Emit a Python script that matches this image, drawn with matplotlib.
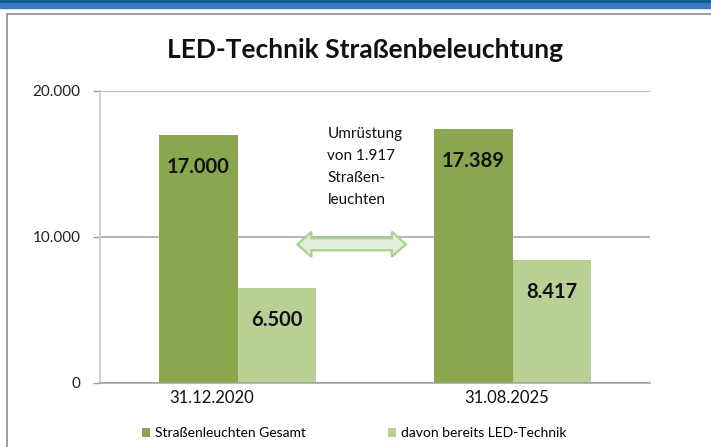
import matplotlib.pyplot as plt
from matplotlib.patches import Rectangle, Polygon
from matplotlib.transforms import ScaledTranslation

plt.rcParams['font.family'] = ['Lato', 'DejaVu Sans']

# Daten
dates = ["31.12.2020", "31.08.2025"]
gesamt = [17000, 17389]
led = [6500, 8417]
series_names = ["Straßenleuchten Gesamt", "davon bereits LED-Technik"]
yticks = [0, 10000, 20000]
ytick_labels = ["0", "10.000", "20.000"]
note = "Umrüstung\nvon 1.917\nStraßen-\nleuchten"

dark_green = "#8aa64f"
light_green = "#bacf94"

fig = plt.figure(figsize=(7.11, 4.47), dpi=100)

# blauer Streifen oben + Rahmen
fig.patches.append(Rectangle((0, 1 - 3.5 / 447), 1, 3.5 / 447, transform=fig.transFigure,
                             color="#0d5c8c", zorder=0))
fig.patches.append(Rectangle((0, 1 - 8 / 447), 1, 4.5 / 447, transform=fig.transFigure,
                             color="#3a7abd", zorder=0))
fig.patches.append(Rectangle((7 / 711, -0.05), 1.1, 1 - 14 / 447 + 0.05, transform=fig.transFigure,
                             fill=False, ec="#8c8c8c", lw=1.2, zorder=0))

ax = fig.add_axes([100 / 711, 1 - 383 / 447, 550 / 711, 292 / 447])

x = list(range(len(dates)))
w = 0.285
b1 = ax.bar([i - w / 2 for i in x], gesamt, width=w, color=dark_green, label=series_names[0], zorder=2)
b2 = ax.bar([i + w / 2 for i in x], led, width=w, color=light_green, label=series_names[1], zorder=2)

for bars, vals in [(b1, gesamt), (b2, led)]:
    for r, v in zip(bars, vals):
        ax.annotate(f"{v:,}".replace(",", "."), (r.get_x() + r.get_width() / 2, v),
                    xytext=(0, -23), textcoords="offset points", ha="center", va="center",
                    fontsize=14.5, fontweight="bold", color="#111111", zorder=3)

ax.set_xlim(-0.5, 1.5)
ax.set_ylim(0, 20000)
ax.set_yticks(yticks)
ax.set_yticklabels(ytick_labels, fontsize=11, color="#222222")
ax.set_xticks(x)
ax.set_xticklabels([])
# Kategorienbeschriftung leicht nach links versetzt wie im Original
for i, (d, dx) in enumerate(zip(dates, [-26, -6])):
    tr = ax.get_xaxis_transform() + ScaledTranslation(dx / 100, -15 / 100, fig.dpi_scale_trans)
    ax.text(i, 0, d, transform=tr, ha="center", va="center", fontsize=12, color="#111111")
ax.tick_params(axis="x", length=0)
ax.tick_params(axis="y", length=5, color="#9a9a9a", width=1, pad=9)
ax.yaxis.grid(True, color="#a0a0a0", lw=1.1, zorder=1)
for s in ["top", "right"]:
    ax.spines[s].set_visible(False)
ax.spines["left"].set_color("#c8c8c8")
ax.spines["left"].set_linewidth(1.2)
ax.spines["bottom"].set_color("#a0a0a0")
ax.spines["bottom"].set_linewidth(1.1)

# Doppelpfeil (Form in Pixelmaßen)
px_x = 1 / 275
px_y = 20000 / 292
x0, x1, yc = 0.218, 0.612, 9500
hl, hw, tw = 14 * px_x, 12.5 * px_y, 6 * px_y
arrow = Polygon([(x0, yc), (x0 + hl, yc + hw), (x0 + hl, yc + tw), (x1 - hl, yc + tw),
                 (x1 - hl, yc + hw), (x1, yc), (x1 - hl, yc - hw), (x1 - hl, yc - tw),
                 (x0 + hl, yc - tw), (x0 + hl, yc - hw)], closed=True,
                fc="#e2efd9", ec="#a9d18e", lw=1.6, zorder=4)
ax.add_patch(arrow)
ax.text(0.327, 17550, note, fontsize=11, color="#111111", va="top", ha="left",
        linespacing=1.72)

fig.text(365 / 711, 1 - 58 / 447, "LED-Technik Straßenbeleuchtung", ha="center", va="baseline",
         fontsize=19, fontweight="bold", color="#111111")

fig.legend(handles=[b1, b2], labels=series_names, loc="center", ncol=2,
           bbox_to_anchor=(354 / 711, 1 - 433 / 447), frameon=False, fontsize=10,
           handlelength=0.6, handleheight=0.6, handletextpad=0.35, columnspacing=5.9)

fig.savefig("out.png", dpi=100, facecolor="white")
